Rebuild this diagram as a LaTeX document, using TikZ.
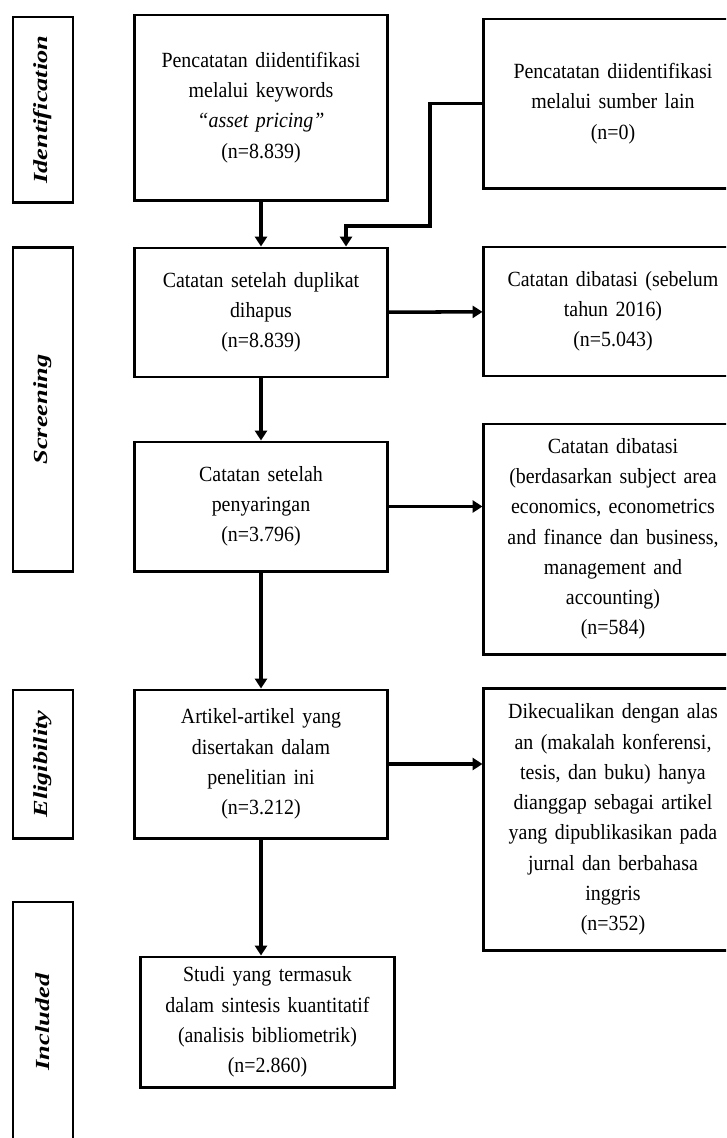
\documentclass[tikz,border=0pt]{standalone}
\usepackage{fontspec}
\setmainfont{Liberation Serif}[FakeStretch=0.92,WordSpace=1.5]
\newfontfamily\phasefont{Liberation Serif}[FakeStretch=1.32]
\usetikzlibrary{arrows.meta,positioning}
\tikzset{
  box/.style     ={draw,line width=2.1pt,align=center,inner sep=0pt,
                   font=\fontsize{15.4}{21.5}\selectfont},
  mainbox/.style ={box,minimum width=6.3cm},
  sidebox/.style ={box,minimum width=6.45cm},
  phase/.style   ={draw,line width=2.1pt,rotate=90,inner sep=0pt,
                   minimum height=1.5cm,
                   font=\phasefont\fontsize{14.2}{17}\selectfont\bfseries\itshape},
  flow/.style    ={-{Triangle[length=7pt,width=8.5pt]},line width=2.5pt},
}

\begin{document}
\begin{tikzpicture}[x=0.025cm,y=-0.025cm]
  \useasboundingbox (0,0) rectangle (726,1138);
  \clip (0,0) rectangle (726,1138);

  % phases
  \node[phase,minimum width=4.625cm] (pid)  at (43,109.5) {Identification};
  \node[phase,minimum width=8.075cm] (pscr) at (43,409.5) {Screening};
  \node[phase,minimum width=3.7cm]   (pelg) at (43,764)   {Eligibility};
  \node[phase,minimum width=6cm]     (pinc) at (43,1022)  {Included};

  % main column
  \node[mainbox,minimum height=4.625cm] (kw) at (261,107.5)
       {Pencatatan diidentifikasi\\melalui keywords\\\textit{“asset pricing”}\\(n=8.839)};
  \node[mainbox,minimum height=3.225cm] (dup) at (261,312.5)
       {Catatan setelah duplikat\\dihapus\\(n=8.839)};
  \node[mainbox,minimum height=3.225cm] (scr) at (261,506.5)
       {Catatan setelah\\penyaringan\\(n=3.796)};
  \node[mainbox,minimum height=3.7cm] (art) at (261,764)
       {Artikel-artikel yang\\disertakan dalam\\penelitian ini\\(n=3.212)};
  \node[box,minimum width=6.325cm,minimum height=3.25cm] (inc) at (267.5,1022)
       {Studi yang termasuk\\dalam sintesis kuantitatif\\(analisis bibliometrik)\\(n=2.860)};

  % side column
  \node[sidebox,minimum height=4.225cm] (oth) at (613,103.5)
       {Pencatatan diidentifikasi\\melalui sumber lain\\(n=0)};
  \node[sidebox,minimum height=3.225cm] (yr) at (613,311.5)
       {Catatan dibatasi (sebelum\\tahun 2016)\\(n=5.043)};
  \node[sidebox,minimum height=5.75cm] (subj) at (613,539)
       {Catatan dibatasi\\(berdasarkan subject area\\economics, econometrics\\and finance  dan business,\\management and\\accounting)\\(n=584)};
  \node[sidebox,minimum height=6.525cm] (excl) at (613,819.5)
       {Dikecualikan dengan alas\\an (makalah konferensi,\\tesis, dan buku) hanya\\dianggap sebagai artikel\\yang dipublikasikan pada\\jurnal dan berbahasa\\inggris\\(n=352)};

  \coordinate (jog) at (430,226);

  \draw[flow] (kw) -- (dup);
  \draw[flow] (oth.west) -| (jog) -| ([xshift=2.125cm]dup.north);
  \draw[flow] (dup) -- (yr);
  \draw[flow] (dup) -- (scr);
  \draw[flow] (scr.east) -- (scr.east -| subj.west);
  \draw[flow] (scr) -- (art);
  \draw[flow] (art.east) -- (art.east -| excl.west);
  \draw[flow] (art.south) -- (art.south |- inc.north);
\end{tikzpicture}
\end{document}
